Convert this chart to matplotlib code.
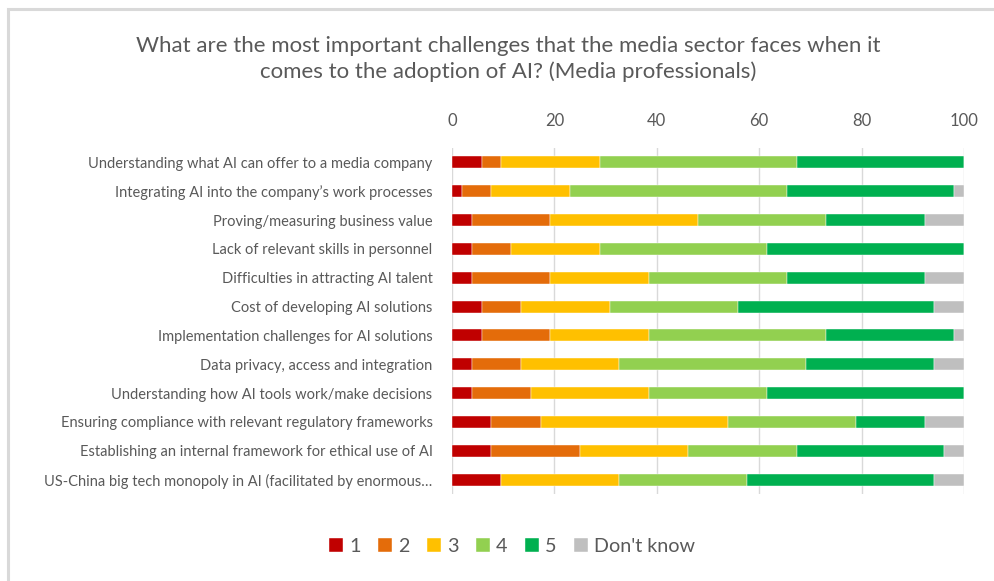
import numpy as np
import matplotlib.pyplot as plt
from matplotlib.patches import Rectangle

plt.rcParams['font.family'] = ['Lato', 'DejaVu Sans']

# share of respondents (%) giving each rating, N = 52
categories = [
    "Understanding what AI can offer to a media company",
    "Integrating AI into the company\u2019s work processes",
    "Proving/measuring business value",
    "Lack of relevant skills in personnel",
    "Difficulties in attracting AI talent",
    "Cost of developing AI solutions",
    "Implementation challenges for AI solutions",
    "Data privacy, access and integration",
    "Understanding how AI tools work/make decisions",
    "Ensuring compliance with relevant regulatory frameworks",
    "Establishing an internal framework for ethical use of AI",
    "US-China big tech monopoly in AI (facilitated by enormous\u2026",
]
n_resp = 52
r1 = np.array([3, 1, 2, 2, 2, 3, 3, 2, 2, 4, 4, 5]) / n_resp * 100
r2 = np.array([2, 3, 8, 4, 8, 4, 7, 5, 6, 5, 9, 0]) / n_resp * 100
r3 = np.array([10, 8, 15, 9, 10, 9, 10, 10, 12, 19, 11, 12]) / n_resp * 100
r4 = np.array([20, 22, 13, 17, 14, 13, 18, 19, 12, 13, 11, 13]) / n_resp * 100
r5 = np.array([17, 17, 10, 20, 14, 20, 13, 13, 20, 7, 15, 19]) / n_resp * 100
dont_know = np.array([0, 1, 4, 0, 4, 3, 1, 3, 0, 4, 2, 3]) / n_resp * 100

series = [r1, r2, r3, r4, r5, dont_know]
labels = ["1", "2", "3", "4", "5", "Don't know"]
colors = ["#C00000", "#E46C0A", "#FFC000", "#92D050", "#00B050", "#BFBFBF"]
ticks = [0, 20, 40, 60, 80, 100]

text_col = "#595959"

fig = plt.figure(figsize=(9.95, 5.81), dpi=100)
fig.patches.append(Rectangle((8 / 995, -0.1), 1.2, 1.1 - 9 / 581, transform=fig.transFigure,
                             fill=False, edgecolor="#D9D9D9", linewidth=2.2))

ax = fig.add_axes([452 / 995, 1 - 494 / 581, 512 / 995, 346 / 581])
y = np.arange(len(categories))
left = np.zeros(len(categories))
for vals, lab, col in zip(series, labels, colors):
    ax.barh(y, vals, left=left, height=0.42, color=col, label=lab,
            edgecolor="white", linewidth=0.3, zorder=3)
    left += vals

ax.set_xlim(0, 100)
ax.set_ylim(len(categories) - 0.5, -0.5)
ax.set_xticks(ticks)
ax.xaxis.tick_top()
ax.tick_params(axis="x", length=0, labelsize=12, labelcolor=text_col, pad=14)
ax.set_yticks(y)
ax.set_yticklabels(categories)
ax.tick_params(axis="y", length=0, labelsize=10.5, labelcolor=text_col, pad=14)
ax.grid(axis="x", color="#D9D9D9", linewidth=1, zorder=0)
for s in ax.spines.values():
    s.set_visible(False)

fig.text(508 / 995, 1 - 59 / 581,
         "What are the most important challenges that the media sector faces when it\n"
         "comes to the adoption of AI? (Media professionals)",
         ha="center", va="center", fontsize=16, color=text_col, linespacing=1.35)

fig.legend(loc="center", bbox_to_anchor=(512 / 995, 1 - 546 / 581), ncol=6,
           frameon=False, fontsize=14.2, labelcolor=text_col, handlelength=0.7,
           handleheight=0.7, handletextpad=0.3, columnspacing=0.9)

fig.savefig("out.png", dpi=100)
